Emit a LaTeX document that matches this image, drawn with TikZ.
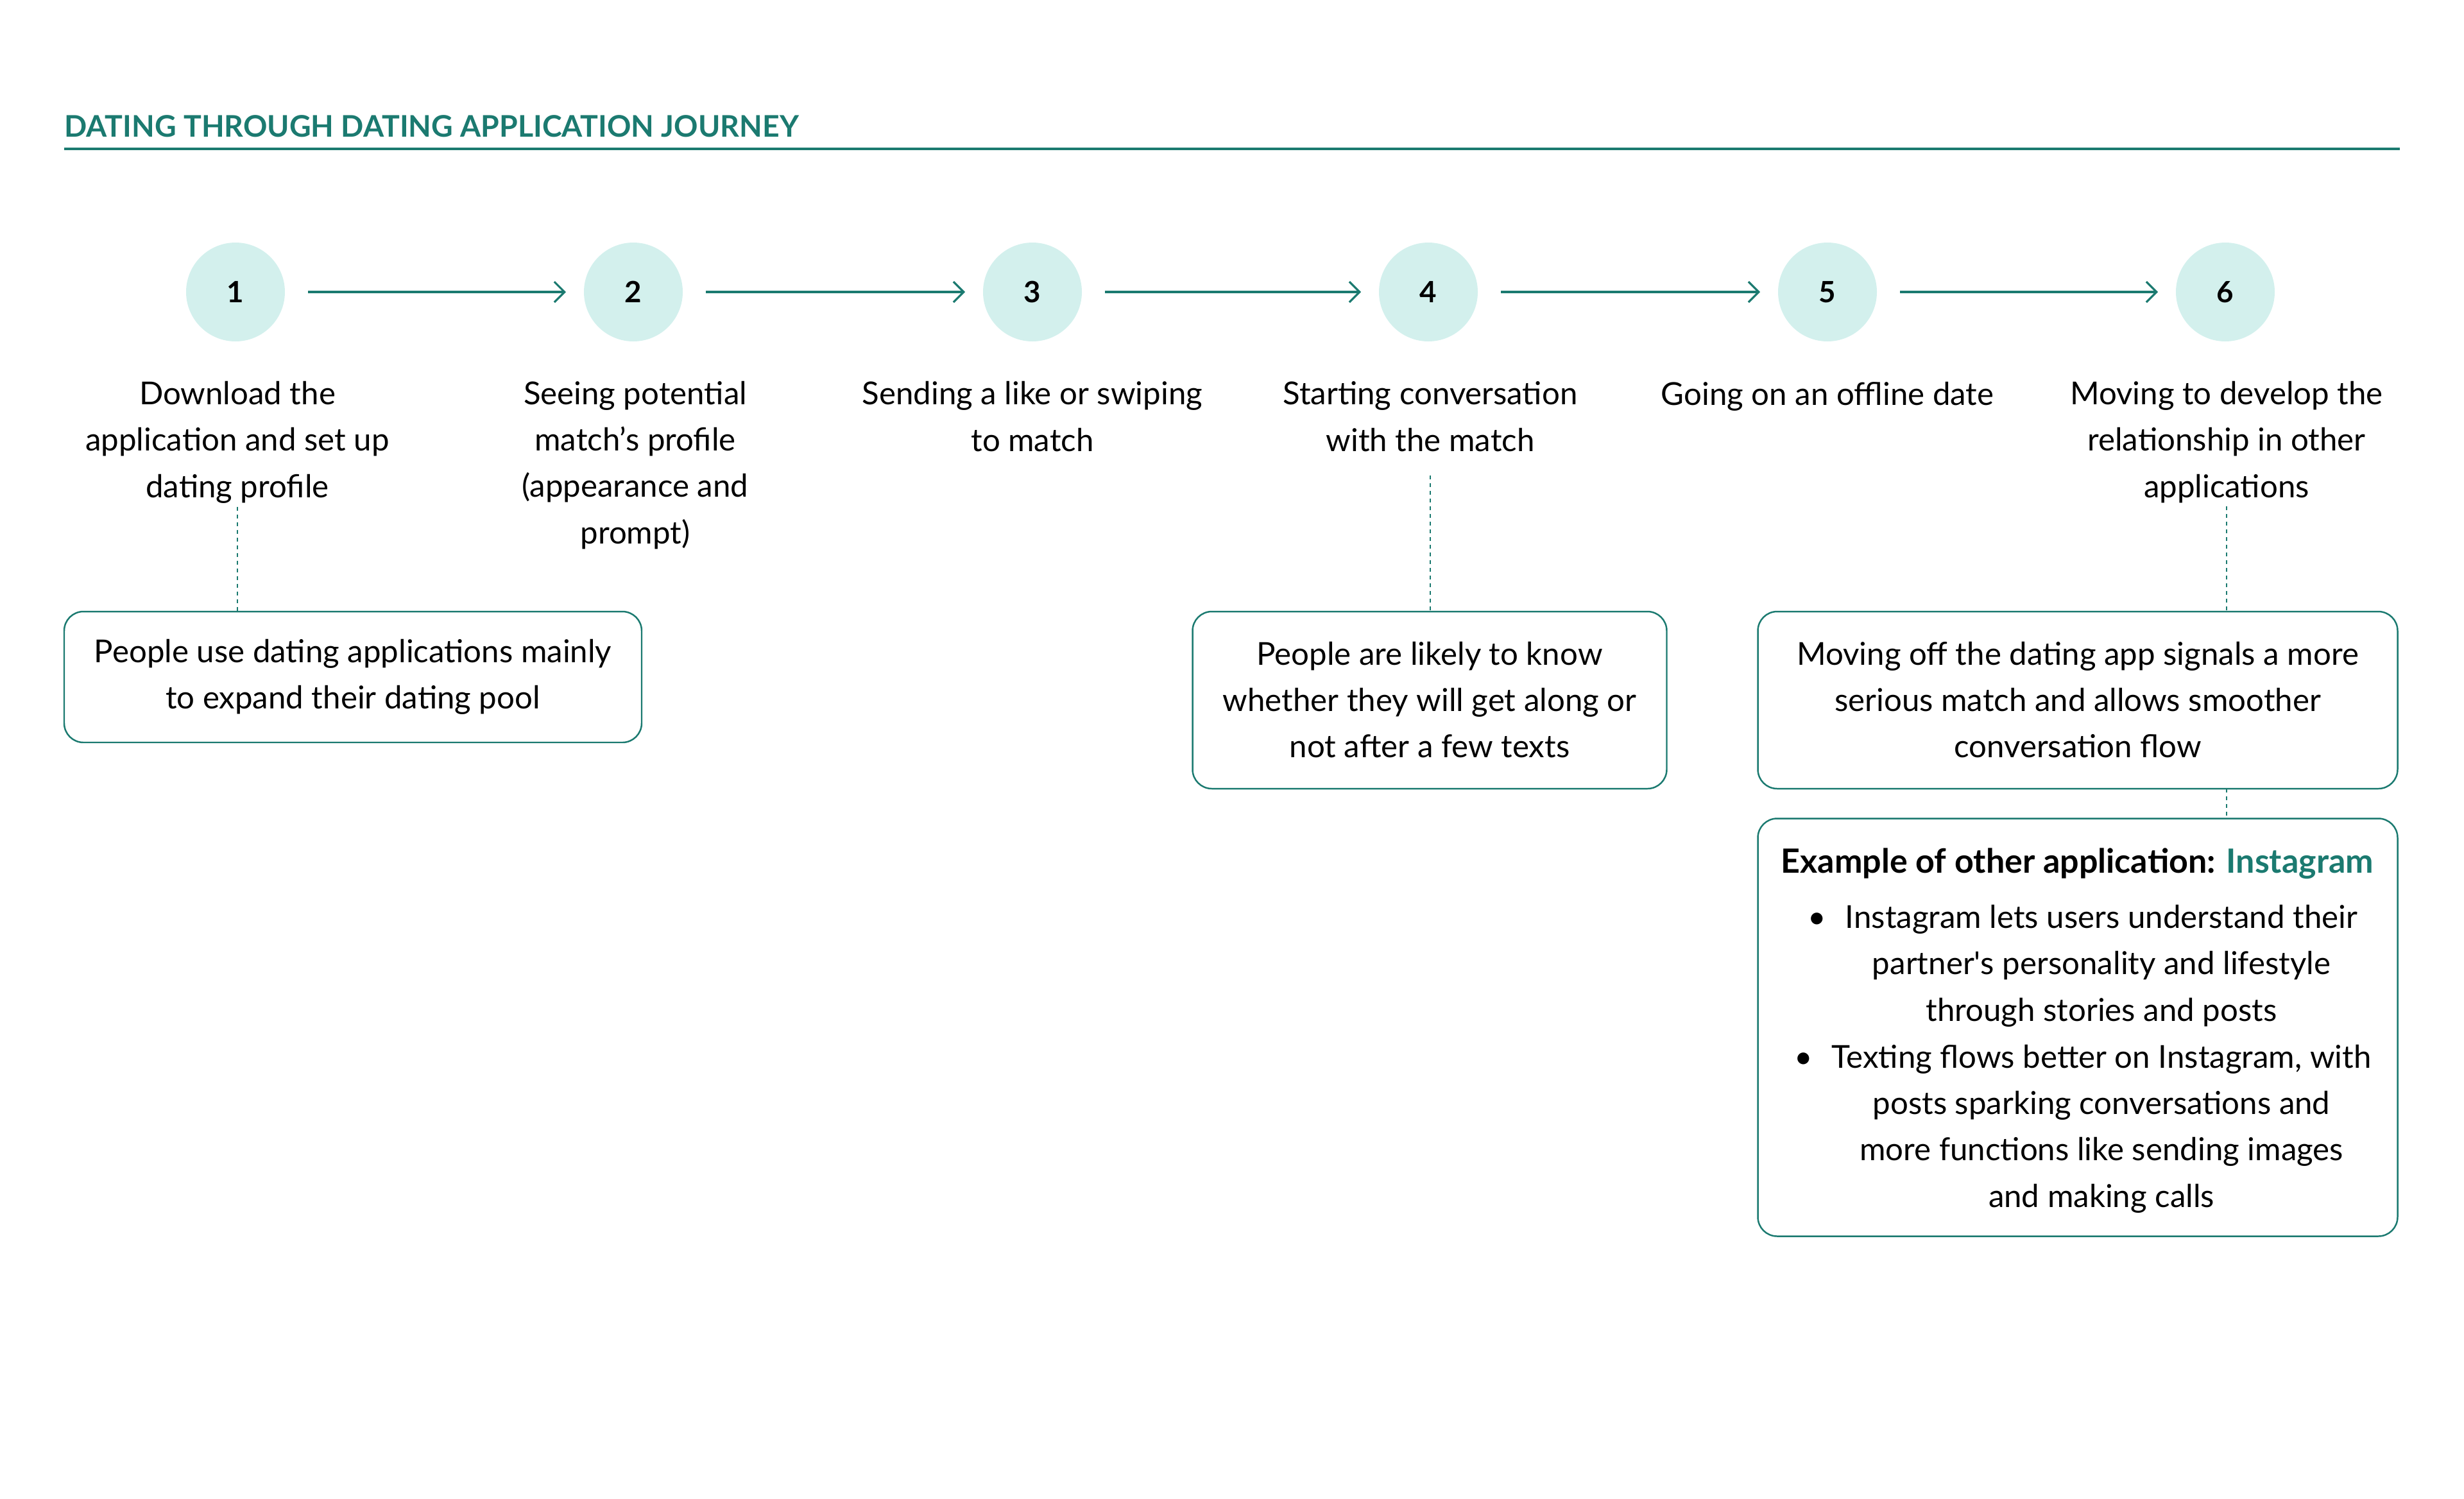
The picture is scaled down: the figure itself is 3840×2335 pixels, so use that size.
\documentclass[tikz,border=0pt]{standalone}
\usepackage{fontspec}
\setmainfont{Lato}
\usetikzlibrary{arrows.meta}
\definecolor{journeyteal}{RGB}{27,122,112}
\definecolor{stepfill}{RGB}{211,240,237}
\tikzset{
    bodyfont/.style={font=\fontsize{14}{20.5}\selectfont},
    stepcircle/.style={circle,fill=stepfill,minimum size=15.4mm,inner sep=0pt,outer sep=0pt,font=\fontsize{13}{15}\selectfont\bfseries},
    steplabel/.style={bodyfont,align=center,anchor=base,inner sep=0pt},
    notebox/.style={bodyfont,draw=journeyteal,line width=0.7pt,rounded corners=3mm,align=center,inner sep=0pt,outer sep=0pt},
    flowarrow/.style={-{Straight Barb[length=1.6mm,width=3.2mm]},draw=journeyteal,line width=0.9pt,shorten <=3.6mm,shorten >=2.8mm},
    linkdots/.style={draw=journeyteal,line width=0.7pt,dash pattern=on 0.6mm off 0.6mm},
    journeytitle/.style={font=\fontsize{13.2}{15}\selectfont\bfseries,text=journeyteal,anchor=base west,inner sep=0pt},
    titlerule/.style={draw=journeyteal,line width=1.1pt}
}

\begin{document}
\begin{tikzpicture}[x=0.1mm,y=-0.1mm]
\useasboundingbox (0,0) rectangle (3840,2335);
\node[journeytitle] (title) at (100,213) {DATING THROUGH DATING APPLICATION JOURNEY};
\draw[titlerule] (100,232) -- (3740,232);
\node[stepcircle] (c1) at (367,455) {1};
\node[stepcircle] (c2) at (987,455) {2};
\node[stepcircle] (c3) at (1609,455) {3};
\node[stepcircle] (c4) at (2226,455) {4};
\node[stepcircle] (c5) at (2848,455) {5};
\node[stepcircle] (c6) at (3468,455) {6};
\draw[flowarrow] (c1) -- (c2);
\draw[flowarrow] (c2) -- (c3);
\draw[flowarrow] (c3) -- (c4);
\draw[flowarrow] (c4) -- (c5);
\draw[flowarrow] (c5) -- (c6);
% steplabel sits on the baseline of its last line
\node[steplabel] (l1) at (370,775) {Download the\\application and set up\\dating profile};
\node[steplabel] (l2) at (990,847) {Seeing potential\\match’s profile\\(appearance and\\prompt)};
\node[steplabel] (l3) at (1609,703) {Sending a like or swiping\\to match};
\node[steplabel] (l4) at (2229,703) {Starting conversation\\with the match};
\node[steplabel] (l5) at (2848,631) {Going on an offline date};
\node[steplabel] (l6) at (3470,775) {Moving to develop the\\relationship in other\\applications};
\node[notebox,minimum width=90mm,minimum height=20.4mm] (n1) at (550,1055) {People use dating applications mainly\\to expand their dating pool};
\node[notebox,minimum width=73.9mm,minimum height=27.6mm] (n4) at (2228,1091) {People are likely to know\\whether they will get along or\\not after a few texts};
\node[notebox,minimum width=99.7mm,minimum height=27.6mm] (n6) at (3238,1091) {Moving off the dating app signals a more\\serious match and allows smoother\\conversation flow};
\node[notebox,minimum width=99.7mm,minimum height=65.1mm] (x6) at (3238,1601) {};
\node[anchor=base west,inner sep=0pt,font=\fontsize{14.8}{20.5}\selectfont\bfseries] (x6head) at (2775,1360) {Example of other application: \textcolor{journeyteal}{Instagram}};
\node[steplabel] (x6a) at (3275,1591) {\llap{\textbullet\hspace{3mm}}Instagram lets users understand their\\partner\textquotesingle s personality and lifestyle\\through stories and posts};
\node[steplabel] (x6b) at (3275,1881) {\llap{\textbullet\hspace{3mm}}Texting flows better on Instagram, with\\posts sparking conversations and\\more functions like sending images\\and making calls};
\draw[linkdots] ([yshift=-0.5mm]l1.south) -- (l1.south |- n1.north);
\draw[linkdots] ([yshift=-3.7mm]l4.south) -- (l4.south |- n4.north);
\draw[linkdots] ([yshift=-0.5mm]l6.south) -- (l6.south |- n6.north);
\draw[linkdots] (n6.south -| l6.south) -- (x6.north -| l6.south);
\end{tikzpicture}
\end{document}
